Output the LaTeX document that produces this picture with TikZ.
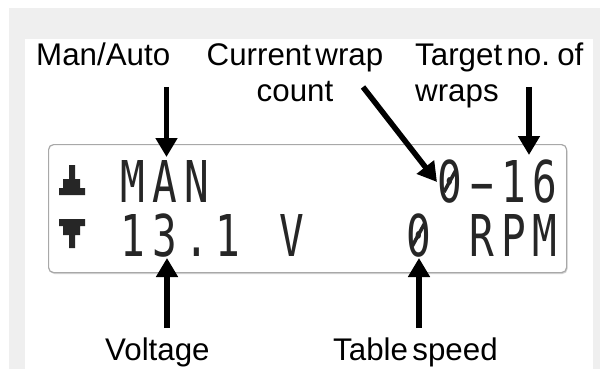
\documentclass[tikz,border=0pt]{standalone}
\usepackage{fontspec}
\setmainfont{Liberation Sans}
\newfontfamily\lcdfont{DejaVu Sans Mono}
\usetikzlibrary{arrows.meta}
\definecolor{bggray}{HTML}{EFEFEF}
\definecolor{lcdborder}{HTML}{A8A8A8}
\definecolor{lcdshadow}{HTML}{D4D4D4}
\definecolor{lcdink}{HTML}{262626}
\newcommand{\lblfont}{\fontsize{31.3}{36}\selectfont\spaceskip 0.14em\relax}
% one LCD character cell: fixed pitch, narrow tall glyph
\newcommand{\lc}[1]{\makebox[31.7pt]{\scalebox{0.78}[1.094]{#1}}}
\newcommand{\lcw}[1]{\makebox[31.7pt]{\scalebox{1.5}[1.094]{#1}}}
\begin{document}
\begin{tikzpicture}[x=1pt,y=1pt,
  lbl/.style={inner sep=0pt, font={\lblfont}, text=black},
  lcd/.style={inner sep=0pt, anchor=base west, font={\fontsize{52.66}{60}\lcdfont}, text=lcdink},
  arr/.style={line width=5.5pt, -{Triangle[width=21pt,length=19pt]}, black},
  icon/.style={fill=lcdink},
  zslash/.style={draw=lcdink, line width=3.6pt}]
% background
\fill[white] (0,0) rectangle (600,-369);
\fill[bggray] (9,-8) rectangle (600,-369);
\fill[white] (25,-39) rectangle (593,-369);
\useasboundingbox (0,0) rectangle (600,-369);
% LCD panel
\fill[lcdshadow, rounded corners=5pt] (49.5,-146) rectangle (567.5,-274);
\node[draw=lcdborder, line width=1.2pt, rounded corners=5pt, fill=white,
      minimum width=518pt, minimum height=128pt, inner sep=0pt, anchor=north west] (lcd) at (48,-144) {};
% icons
\fill[icon] (69,-165) -- (75,-165) -- (75,-179) -- (80,-179) -- (80,-188) -- (85,-188) -- (85,-195)
  -- (59,-195) -- (59,-188) -- (63,-188) -- (63,-179) -- (69,-179) -- cycle;
\fill[icon] (59,-219) -- (85,-219) -- (85,-226) -- (80,-226) -- (80,-235) -- (75,-235) -- (75,-248)
  -- (69,-248) -- (69,-235) -- (63,-235) -- (63,-226) -- (59,-226) -- cycle;
% LCD text
\node[lcd] (lcdman) at (117.15,-202) {\lc{M}\lc{A}\lc{N}};
\node[lcd] (lcdcnt) at (434.15,-202) {\lc{0}\lcw{-}\lc{1}\lc{6}};
\node[lcd] (lcdvolt) at (117.15,-256) {\lc{1}\lc{3}\lc{.}\lc{1}\lc{ }\lc{V}};
\node[lcd] (lcdrpm) at (402.45,-256) {\lc{0}\lc{ }\lc{R}\lc{P}\lc{M}};
% slashes of the LCD zeros
\draw[zslash] (444,-192) -- (456,-170);
\draw[zslash] (412.3,-246) -- (424.3,-224);
% labels
\node[lbl, anchor=base west] (manlbl) at (36,-66) {Man/Auto};
\node[lbl, anchor=base] (curlbl) at (295,-66) {Current wrap};
\node[lbl, anchor=base] (curlbl2) at (295,-102) {count};
\node[lbl, anchor=base west] (tgtlbl) at (415,-66) {Target no. of};
\node[lbl, anchor=base west] (tgtlbl2) at (415,-102) {wraps};
\node[lbl, anchor=base west] (vollbl) at (105,-360) {Voltage};
\node[lbl, anchor=base west] (spdlbl) at (333,-360) {Table speed};
% arrow ends
\coordinate (manS) at (166.5,-87);  \coordinate (manT) at (166.5,-157);
\coordinate (curS) at (363,-87);    \coordinate (curT) at (437,-182);
\coordinate (tgtS) at (529,-87);    \coordinate (tgtT) at (529,-155);
\coordinate (volS) at (167,-328);   \coordinate (volT) at (167,-258);
\coordinate (spdS) at (419,-328);   \coordinate (spdT) at (419,-258);
\draw[arr] (manS) -- (manT);
\draw[arr] (curS) -- (curT);
\draw[arr] (tgtS) -- (tgtT);
\draw[arr] (volS) -- (volT);
\draw[arr] (spdS) -- (spdT);
\end{tikzpicture}
\end{document}
